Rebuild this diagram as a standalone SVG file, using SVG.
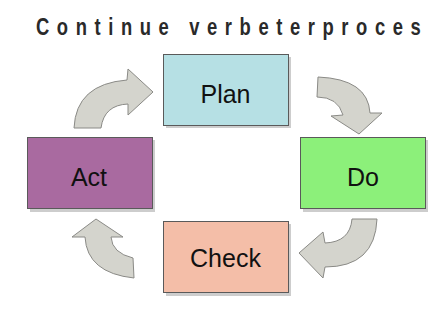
<svg xmlns="http://www.w3.org/2000/svg" width="437" height="329" viewBox="0 0 437 329">
<style>
.box{stroke:#5a5a5a;stroke-width:1}
.shadow{fill:#b8b8b8;opacity:0.7}
.lbl{font-family:"Liberation Sans",Arial,sans-serif;font-size:25px;fill:#111;text-anchor:middle}
.arr{fill:#d4d4cd;stroke:#8a8a86;stroke-width:1;stroke-linejoin:round}
.title{font-family:"Liberation Sans",Arial,sans-serif;font-weight:bold;font-size:23px;fill:#2a2a2a}
</style>
<rect width="437" height="329" fill="#ffffff"/>
<text class="title" x="45" y="35" transform="scale(0.8,1)" textLength="481" lengthAdjust="spacing">Continue verbeterproces</text>
<g id="plan">
<rect class="shadow" x="166" y="57" width="125" height="71"/>
<rect class="box" x="163.5" y="54.5" width="125" height="71" fill="#b6e0e4"/>
<text class="lbl" x="225.5" y="103">Plan</text>
</g>
<g id="do">
<rect class="shadow" x="303" y="140" width="125" height="72"/>
<rect class="box" x="300.5" y="137.5" width="125" height="71" fill="#8cf07a"/>
<text class="lbl" x="363" y="186">Do</text>
</g>
<g id="check">
<rect class="shadow" x="166" y="224" width="125" height="72"/>
<rect class="box" x="163.5" y="221.5" width="125" height="71" fill="#f4bea8"/>
<text class="lbl" x="225.5" y="267">Check</text>
</g>
<g id="act">
<rect class="shadow" x="30" y="140" width="125" height="72"/>
<rect class="box" x="27.5" y="137.5" width="125" height="71" fill="#a96aa0"/>
<text class="lbl" x="89" y="186">Act</text>
</g>
<g id="connectors">
<path class="arr" d="M74,128 Q76,84 127,80 L128,69 L153,92 L128,115 L128,104 Q104,105 101,128 Z"/>
<path class="arr" d="M318,77 Q368,79 370,113 L382,113 L359,134 L331,116 L343,115 Q338,97 317,97 Z"/>
<path class="arr" d="M377,219 Q375,267 325,267 L323,278 L299,253 L323,232 L325,243 Q350,242 352,219 Z"/>
<path class="arr" d="M96,219 L123,237 L111,237 Q112,253 133,258 L134,278 Q87,273 85,237 L72,237 Z"/>
</g>
</svg>
